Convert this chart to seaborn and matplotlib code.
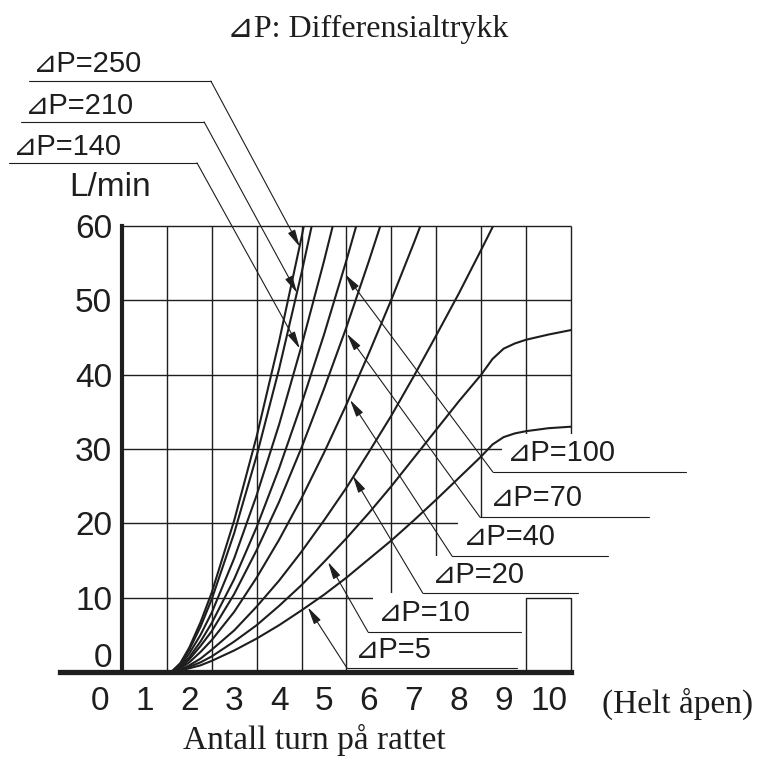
import matplotlib
matplotlib.use("Agg")
import matplotlib.pyplot as plt
from matplotlib.patches import Rectangle
import seaborn as sns

# handwheel turns vs flow (L/min) for each differential pressure
turns_dp5 = [1.6, 1.8, 2.0, 2.25, 2.5, 3.0, 3.5, 4.0, 4.5, 5.0, 5.5, 6.0, 6.5, 7.0,
             7.5, 8.0, 8.5, 8.75, 9.0, 9.25, 9.5, 10.0, 10.5]
flow_dp5 = [0, 0.2, 0.5, 0.9, 1.5, 2.9, 4.5, 6.3, 8.3, 10.4, 12.7, 15.2, 17.7, 20.4,
            23.2, 26.1, 29.0, 30.6, 31.6, 32.1, 32.4, 32.8, 33.0]
turns_dp10 = turns_dp5
flow_dp10 = [0, 0.2, 0.7, 1.3, 2.1, 4.1, 6.3, 8.9, 11.7, 14.8, 18.0, 21.4, 25.0, 28.8,
             32.6, 36.4, 40.0, 42.1, 43.5, 44.2, 44.7, 45.4, 46.0]
turns_dp20 = [1.6, 1.8, 2.0, 2.25, 2.5, 3.0, 3.5, 4.0, 4.5, 5.0, 5.5, 6.0, 6.5, 7.0,
              7.5, 8.0, 8.5, 9.0]
flow_dp20 = [0, 0.3, 0.9, 1.8, 3.0, 5.6, 8.8, 12.3, 16.2, 20.4, 24.8, 29.6, 34.5, 39.8,
             45.3, 50.9, 56.8, 62.8]
turns_dp40 = turns_dp20[:15]
flow_dp40 = [0, 0.5, 1.3, 2.7, 4.3, 8.1, 12.7, 17.8, 23.4, 29.5, 36.0, 42.9, 50.1, 57.7, 65.6]
turns_dp70 = turns_dp20[:13]
flow_dp70 = [0, 0.6, 1.7, 3.5, 5.5, 10.5, 16.4, 22.9, 30.2, 38.1, 46.4, 55.3, 64.6]
turns_dp100 = turns_dp20[:12]
flow_dp100 = [0, 0.7, 2.0, 4.1, 6.6, 12.5, 19.5, 27.4, 36.1, 45.4, 55.4, 66.0]
turns_dp140 = turns_dp20[:11]
flow_dp140 = [0, 0.9, 2.5, 5.0, 8.0, 15.3, 23.8, 33.3, 43.9, 55.3, 67.4]
turns_dp210 = turns_dp20[:10]
flow_dp210 = [0, 1.1, 3.0, 6.1, 9.8, 18.7, 29.1, 40.8, 53.7, 67.7]
turns_dp250 = turns_dp20[:10]
flow_dp250 = [0, 1.2, 3.3, 6.7, 10.7, 20.4, 31.7, 44.5, 58.5, 73.8]

x_ticks = list(range(11))
y_ticks = [10, 20, 30, 40, 50, 60]

INK = "#1e1e1e"
SANS = ["Liberation Sans", "DejaVu Sans"]
SERIF = ["Liberation Serif", "DejaVu Sans"]

sns.set_style("white")
plt.rcParams["font.family"] = SANS

fig = plt.figure(figsize=(7.6, 7.6), dpi=100)
ax = fig.add_axes([60 / 760, 88 / 760, 511 / 760, 446 / 760])
ax.set_xlim(-0.88, 10.5)
ax.set_ylim(0, 60)

# grid only inside the plotting box
ax.hlines(y_ticks, 0.5, 10.5, color=INK, lw=1.0, zorder=1, clip_on=False)
ax.vlines([k + 0.5 for k in range(1, 11)], 0, 60, color=INK, lw=1.0, zorder=1, clip_on=False)

# white area behind the right-hand labels (hides the grid there)
masks = [(8.96, 26.9, 32.0), (8.58, 20.85, 26.9), (7.98, 15.6, 20.85),
         (7.29, 10.6, 15.6), (6.09, 5.38, 10.6), (5.58, 0.3, 5.38)]
for x0, y0, y1 in masks:
    ax.add_patch(Rectangle((x0, y0), 11 - x0, y1 - y0, facecolor="white",
                           edgecolor="none", zorder=2, clip_on=False))
ax.plot([9.5, 9.5, 10.5, 10.5], [0, 10, 10, 0], color=INK, lw=1.0, zorder=2.5, clip_on=False)

curves = [(turns_dp5, flow_dp5), (turns_dp10, flow_dp10), (turns_dp20, flow_dp20),
          (turns_dp40, flow_dp40), (turns_dp70, flow_dp70), (turns_dp100, flow_dp100),
          (turns_dp140, flow_dp140), (turns_dp210, flow_dp210), (turns_dp250, flow_dp250)]
for tx, fy in curves:
    sns.lineplot(x=tx, y=fy, color=INK, lw=1.5, ax=ax, zorder=3)

# labels with underline and leader arrow:
# text, text x, text y, underline x0, x1, y, leader start x, tip x, tip y
labels = [
    ("⊿P=250", -1.48, 81.8, -1.57, 2.48, 79.5, 2.48, 4.46, 57.2),
    ("⊿P=210", -1.66, 76.2, -1.75, 2.33, 74.0, 2.33, 4.40, 51.0),
    ("⊿P=140", -1.93, 70.6, -2.02, 2.17, 68.5, 2.17, 4.46, 43.5),
    ("⊿P=100", 9.07, 29.5, 8.76, 13.06, 26.9, 8.76, 5.47, 53.5),
    ("⊿P=70", 8.70, 23.4, 8.47, 12.24, 20.85, 8.47, 5.51, 45.5),
    ("⊿P=40", 8.09, 18.2, 7.85, 11.32, 15.6, 7.85, 5.58, 36.6),
    ("⊿P=20", 7.40, 13.05, 7.20, 10.66, 10.6, 7.20, 5.64, 26.4),
    ("⊿P=10", 6.20, 7.94, 5.98, 9.39, 5.38, 5.98, 5.09, 14.8),
    ("⊿P=5", 5.69, 2.96, 5.51, 9.30, 0.54, 5.51, 4.64, 8.7),
]
for txt, tx, ty, u0, u1, uy, lx, px, py in labels:
    ax.text(tx, ty, txt, fontsize=21, color=INK, ha="left", va="center",
            family=SANS, zorder=5, clip_on=False)
    ax.plot([u0, u1], [uy, uy], color=INK, lw=0.8, zorder=4, clip_on=False)
    ax.annotate("", xy=(px, py), xytext=(lx, uy), zorder=4, annotation_clip=False,
                arrowprops=dict(arrowstyle="-|>,head_length=0.7,head_width=0.16",
                                mutation_scale=15, color=INK, lw=0.8,
                                shrinkA=0, shrinkB=0))

# axes: thick left line at the zero-turn cell edge, thick base line
for side in ["top", "right"]:
    ax.spines[side].set_visible(False)
ax.spines["left"].set_position(("data", 0.5))
ax.spines["left"].set_bounds(0, 60)
ax.spines["left"].set_linewidth(3.0)
ax.spines["bottom"].set_linewidth(3.8)
for side in ["left", "bottom"]:
    ax.spines[side].set_color(INK)
    ax.spines[side].set_zorder(6)

ax.set_xticks(x_ticks)
ax.set_xticklabels([str(v) for v in x_ticks])
ax.set_yticks([2.3] + y_ticks)
ax.set_yticklabels(["0"] + [str(v) for v in y_ticks])
ax.tick_params(axis="both", length=0, labelsize=24, colors=INK)
ax.tick_params(axis="x", pad=10)
ax.tick_params(axis="y", pad=7)
ax.set_xlabel("")
ax.set_ylabel("")

ax.text(0.23, 65.2, "L/min", fontsize=24, color=INK, ha="center", va="center",
        family=SANS, clip_on=False)
fig.text(368 / 760, 1 - 29 / 760, "⊿P: Differensialtrykk", fontsize=23, color=INK,
         ha="center", va="center", family=SERIF)
fig.text(314 / 760, 1 - 740 / 760, "Antall turn på rattet", fontsize=24, color=INK,
         ha="center", va="center", family=SERIF)
fig.text(678 / 760, 1 - 704 / 760, "(Helt åpen)", fontsize=24, color=INK,
         ha="center", va="center", family=SERIF)

fig.savefig("out.png", dpi=100, facecolor="white")
plt.close(fig)
